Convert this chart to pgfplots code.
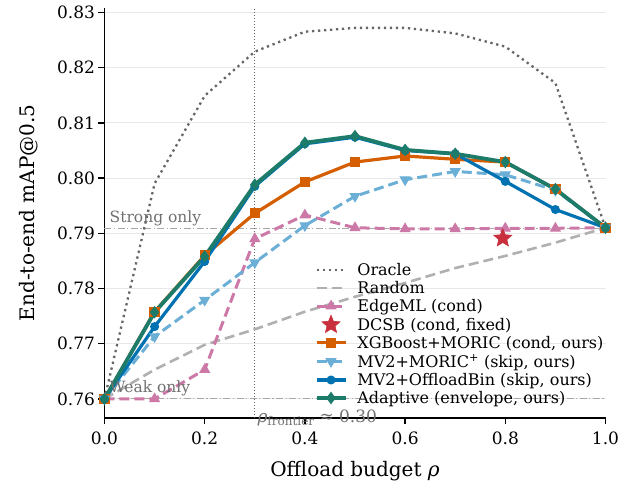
\documentclass[border=0pt]{standalone}
\usepackage{fontspec}
\setmainfont{DejaVu Serif}
\usepackage{pgfplots}
\pgfplotsset{compat=1.18}

\definecolor{oraclegray}{HTML}{666666}
\definecolor{randgray}{HTML}{B0B0B0}
\definecolor{edgepink}{HTML}{CC79A7}
\definecolor{dcsbred}{HTML}{C8303E}
\definecolor{xgborange}{HTML}{D55E00}
\definecolor{moricblue}{HTML}{6BAED6}
\definecolor{binblue}{HTML}{0072B2}
\definecolor{adaptteal}{HTML}{1D7B69}
\definecolor{gridgray}{HTML}{E8E8E8}
\definecolor{refgray}{HTML}{A8A8A8}
\definecolor{txtgray}{HTML}{707070}

% filled five-pointed star
\pgfdeclareplotmark{fstar}{%
  \pgfpathmoveto{\pgfqpointpolar{90}{\pgfplotmarksize}}%
  \pgfpathlineto{\pgfqpointpolar{126}{0.45\pgfplotmarksize}}%
  \pgfpathlineto{\pgfqpointpolar{162}{\pgfplotmarksize}}%
  \pgfpathlineto{\pgfqpointpolar{198}{0.45\pgfplotmarksize}}%
  \pgfpathlineto{\pgfqpointpolar{234}{\pgfplotmarksize}}%
  \pgfpathlineto{\pgfqpointpolar{270}{0.45\pgfplotmarksize}}%
  \pgfpathlineto{\pgfqpointpolar{306}{\pgfplotmarksize}}%
  \pgfpathlineto{\pgfqpointpolar{342}{0.45\pgfplotmarksize}}%
  \pgfpathlineto{\pgfqpointpolar{18}{\pgfplotmarksize}}%
  \pgfpathlineto{\pgfqpointpolar{54}{0.45\pgfplotmarksize}}%
  \pgfpathclose
  \pgfusepathqfillstroke}

\begin{document}
\begin{tikzpicture}
\useasboundingbox (-104.5bp,-68.3bp) rectangle (538.5bp,417.7bp);
\begin{axis}[
    scale only axis,
    width=501bp, height=409.7bp,
    xmin=0, xmax=1, ymin=0.7566, ymax=0.8308,
    axis x line*=bottom, axis y line*=left,
    axis line style={line width=1.6bp, -},
    xtick={0,0.2,0.4,0.6,0.8,1.0},
    ytick={0.76,0.77,0.78,0.79,0.80,0.81,0.82,0.83},
    tick align=outside, major tick length=6bp,
    tick style={line width=1.4bp, black},
    minor tick num=0,
    xticklabel style={yshift=-5bp, /pgf/number format/.cd, fixed, fixed zerofill, precision=1},
    yticklabel style={/pgf/number format/.cd, fixed, fixed zerofill, precision=2},
    /pgf/number format/assume math mode=true,
    tick label style={font=\fontsize{17bp}{19bp}\selectfont},
    ymajorgrids=true,
    grid style={gridgray, line width=0.9bp},
    xlabel={Offload budget \textit{ρ}},
    ylabel={End-to-end mAP@0.5},
    label style={font=\fontsize{20bp}{22bp}\selectfont},
    xlabel style={yshift=-9bp},
    ylabel style={yshift=12bp},
    legend cell align=left,
    legend style={draw=none, fill=none, font=\fontsize{16bp}{17bp}\selectfont,
        at={(rel axis cs:0.417,0.385)}, anchor=north west,
        row sep=0.4bp, inner sep=1bp},
    legend image code/.code={\draw[mark repeat=2, mark phase=2, #1] plot coordinates {(0bp,0bp) (14.5bp,0bp) (29bp,0bp)}; \path (37bp,0bp);},
    clip=false,
]
% reference lines
\addplot[refgray, line width=1bp, dash pattern=on 7bp off 2.5bp on 1.2bp off 2.5bp, forget plot] coordinates {(0,0.7908) (1,0.7908)};
\addplot[refgray, line width=1bp, dash pattern=on 7bp off 2.5bp on 1.2bp off 2.5bp, forget plot] coordinates {(0,0.760) (1,0.760)};
\addplot[oraclegray, line width=0.9bp, dash pattern=on 1bp off 2bp, forget plot] coordinates {(0.3,0.7566) (0.3,0.8308)};

\addplot[oraclegray, line width=2.3bp, dash pattern=on 2.3bp off 3.7bp] coordinates {
(0,0.760) (0.1,0.799) (0.2,0.8149) (0.3,0.8229) (0.4,0.8265) (0.5,0.8272)
(0.6,0.8272) (0.7,0.8262) (0.8,0.8238) (0.9,0.8172) (1.0,0.791)};
\addlegendentry{Oracle}

\addplot[randgray, line width=2.6bp, dash pattern=on 10bp off 5bp] coordinates {
(0,0.760) (0.1,0.7653) (0.2,0.7698) (0.3,0.7726) (0.4,0.7758) (0.5,0.7785)
(0.6,0.7810) (0.7,0.7837) (0.8,0.7859) (0.9,0.7883) (1.0,0.791)};
\addlegendentry{Random}

\addplot[edgepink, line width=3bp, dash pattern=on 10bp off 5bp, mark=triangle*, mark size=5.5bp, mark options={solid, line width=1bp}] coordinates {
(0,0.760) (0.1,0.760) (0.2,0.7653) (0.3,0.7890) (0.4,0.7933) (0.5,0.7910)
(0.6,0.7908) (0.7,0.7908) (0.8,0.7909) (0.9,0.7909) (1.0,0.7910)};
\addlegendentry{EdgeML (cond)}

\addplot[only marks, dcsbred, mark=fstar, mark size=9.5bp, mark options={fill=dcsbred, draw=dcsbred, line width=0.6bp}] coordinates {(0.795,0.7891)};
\addlegendentry{DCSB (cond, fixed)}

\addplot[xgborange, line width=3.2bp, mark=square*, mark size=4.6bp, mark options={line width=1bp}] coordinates {
(0,0.760) (0.1,0.7758) (0.2,0.7860) (0.3,0.7936) (0.4,0.7993) (0.5,0.8029)
(0.6,0.8040) (0.7,0.8034) (0.8,0.8029) (0.9,0.7980) (1.0,0.791)};
\addlegendentry{XGBoost+MORIC (cond, ours)}

\addplot[moricblue, line width=3bp, dash pattern=on 10bp off 5bp, mark=triangle*, mark size=5.5bp, mark options={solid, rotate=180, line width=1bp}] coordinates {
(0,0.760) (0.1,0.7713) (0.2,0.7779) (0.3,0.7847) (0.4,0.7914) (0.5,0.7967)
(0.6,0.7997) (0.7,0.8012) (0.8,0.8006) (0.9,0.7978) (1.0,0.791)};
\addlegendentry{MV2+MORIC\textsuperscript{+} (skip, ours)}

\addplot[binblue, line width=3.2bp, mark=*, mark size=4bp, mark options={line width=1bp}] coordinates {
(0,0.760) (0.1,0.7731) (0.2,0.7849) (0.3,0.7985) (0.4,0.8062) (0.5,0.8074)
(0.6,0.8050) (0.7,0.8044) (0.8,0.7994) (0.9,0.7943) (1.0,0.791)};
\addlegendentry{MV2+OffloadBin (skip, ours)}

\addplot[adaptteal, line width=3.8bp, mark=diamond*, mark size=5.5bp, mark options={line width=1bp}] coordinates {
(0,0.760) (0.1,0.7757) (0.2,0.7858) (0.3,0.7988) (0.4,0.8064) (0.5,0.8076)
(0.6,0.8051) (0.7,0.8044) (0.8,0.8029) (0.9,0.7980) (1.0,0.791)};
\addlegendentry{Adaptive (envelope, ours)}

\node[txtgray, anchor=south west, inner sep=1.5bp, font=\fontsize{15.5bp}{17bp}\selectfont] at (axis cs:0.007,0.7910) {Strong only};
\node[txtgray, anchor=south west, inner sep=1.5bp, font=\fontsize{15.5bp}{17bp}\selectfont] at (axis cs:0.007,0.7602) {Weak only};
\node[txtgray, anchor=west, inner sep=1bp, font=\fontsize{17bp}{19bp}\selectfont] at (axis cs:0.303,0.7566) {\textit{ρ}\raisebox{-0.35ex}{\fontsize{12bp}{13bp}\selectfont frontier} ≈ 0.30};
\end{axis}
\end{tikzpicture}
\end{document}
